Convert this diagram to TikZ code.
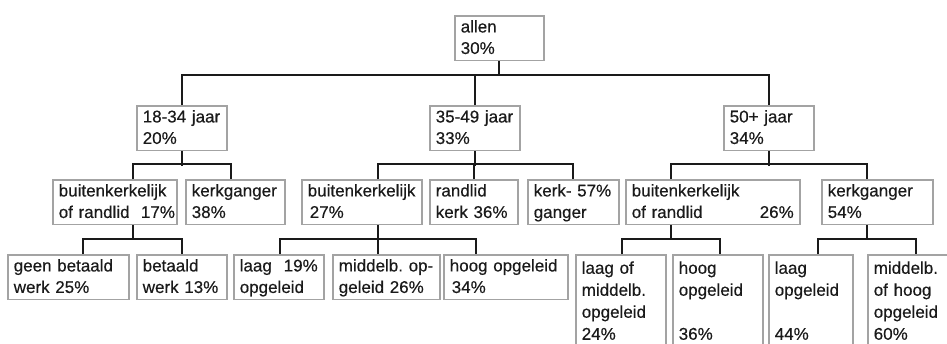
\documentclass[tikz,border=0pt]{standalone}
\usepackage{fontspec}
\setmainfont{Liberation Sans}
\newfontfamily\boxfont{Liberation Sans}[FakeBold=0.35]
\usepackage{tikz}
\usetikzlibrary{positioning,calc}
\definecolor{boxgray}{HTML}{A3A3A3}
\definecolor{inkblack}{HTML}{1A1A1A}
\tikzset{box/.style={draw=boxgray,line width=1.5pt,fill=white,text=inkblack,anchor=north west,
    inner xsep=6pt,inner ysep=0pt,align=left,text height=12.4pt,
    font=\boxfont\fontsize{17}{21.5}\selectfont,
    execute at begin node={\hyphenpenalty=10000 \exhyphenpenalty=10000 }}}
\tikzset{box2/.style={box,minimum height=44.5pt,text depth=23.5pt}}
\tikzset{box4/.style={box,minimum height=110pt,text depth=84.4pt,font=\boxfont\fontsize{17}{22}\selectfont}}
\tikzset{link/.style={draw=inkblack,line width=1.7pt}}

\begin{document}
\begin{tikzpicture}[x=1pt,y=-1pt]
        \useasboundingbox (0,0) rectangle (947,343);
        \clip (0,0) rectangle (947,343);
        % top
        \node[box2,text width=77pt] (allen) at (454,15) {allen\\30\%};
        % age groups
        \node[box2,text width=78pt] (a1834) at (136,105) {18-34~jaar\\20\%};
        \node[box2,text width=78pt] (a3549) at (429,105) {35-49~jaar\\33\%};
        \node[box2,text width=78pt] (a50) at (723,105) {50+~jaar\\34\%};
        % church ties
        \node[box2,text width=112pt] (yBuiten) at (52,179) {buitenkerkelijk\\of~randlid~~17\%};
        \node[box2,text width=87pt] (yKerk) at (185,179) {kerkganger\\38\%};
        \node[box2,text width=108pt] (mBuiten) at (301,179) {buitenkerkelijk\\\hspace*{2pt}27\%};
        \node[box2,text width=76pt] (mRand) at (429,179) {randlid\\kerk~36\%};
        \node[box2,text width=79pt] (mKerk) at (527,179) {kerk-~57\%\\ganger};
        \node[box2,text width=162pt] (oBuiten) at (625,179) {buitenkerkelijk\\of~randlid\hfill 26\%};
        \node[box2,text width=99pt] (oKerk) at (821,179) {kerkganger\\54\%};
        % work and education
        \node[box2,text width=109pt] (yGeen) at (7,254) {geen~betaald\\werk~25\%};
        \node[box2,text width=78pt] (yBetaald) at (136,254) {betaald\\werk~13\%};
        \node[box2,text width=78pt] (mLaag) at (233,254) {laag\hfill 19\%\\opgeleid};
        \node[box2,text width=95pt] (mMiddel) at (332,254) {middelb.~op-\\geleid~26\%};
        \node[box2,text width=112pt] (mHoog) at (443,254) {hoog~opgeleid\\\hspace*{2pt}34\%};
        \node[box4,text width=78pt] (oLaag) at (575,254) {laag~of\\middelb.\\opgeleid\\24\%};
        \node[box4,text width=78pt] (oHoog) at (672,254) {hoog\\opgeleid\\\mbox{}\\36\%};
        \node[box4,text width=72pt] (kLaag) at (768,254) {laag\\opgeleid\\\mbox{}\\44\%};
        \node[box4,text width=84pt] (kHoog) at (867,254) {middelb.\\of~hoog\\opgeleid\\60\%};
        % connectors
        \draw[link] (allen.south) -- ++(0,15);
        \draw[link] (a1834.north) -- ++(0,-30) -| (a50.north);
        \draw[link] (a3549.north) -- ++(0,-30);
        \draw[link] (a1834.south) -- ++(0,15);
        \draw[link] ([xshift=18pt]yBuiten.north) -- ++(0,-15) -| ([xshift=-4.5pt]yKerk.north);
        \draw[link] (a3549.south) -- ++(0,15);
        \draw[link] ([xshift=16pt]mBuiten.north) -- ++(0,-15) -| (mKerk.north);
        \draw[link] (mRand.north) -- ++(0,-15);
        \draw[link] (a50.south) -- ++(0,15);
        \draw[link] ([xshift=-42pt]oBuiten.north) -- ++(0,-15) -| ([xshift=-10pt]oKerk.north);
        \draw[link] ([xshift=18pt]yBuiten.south) -- ++(0,15);
        \draw[link] ([xshift=15pt]yGeen.north) -- ++(0,-15) -| (yBetaald.north);
        \draw[link] ([xshift=16pt]mBuiten.south) -- ([xshift=-8.5pt]mMiddel.north);
        \draw[link] ([xshift=1pt]mLaag.north) -- ++(0,-15) -| ([xshift=-30pt]mHoog.north);
        \draw[link] ([xshift=-42pt]oBuiten.south) -- ++(0,15);
        \draw[link] ([xshift=1pt]oLaag.north) -- ++(0,-15) -| ([xshift=2pt]oHoog.north);
        \draw[link] ([xshift=-10pt]oKerk.south) -- ++(0,15);
        \draw[link] ([xshift=7pt]kLaag.north) -- ++(0,-15) -| (kHoog.north);
\end{tikzpicture}
\end{document}
